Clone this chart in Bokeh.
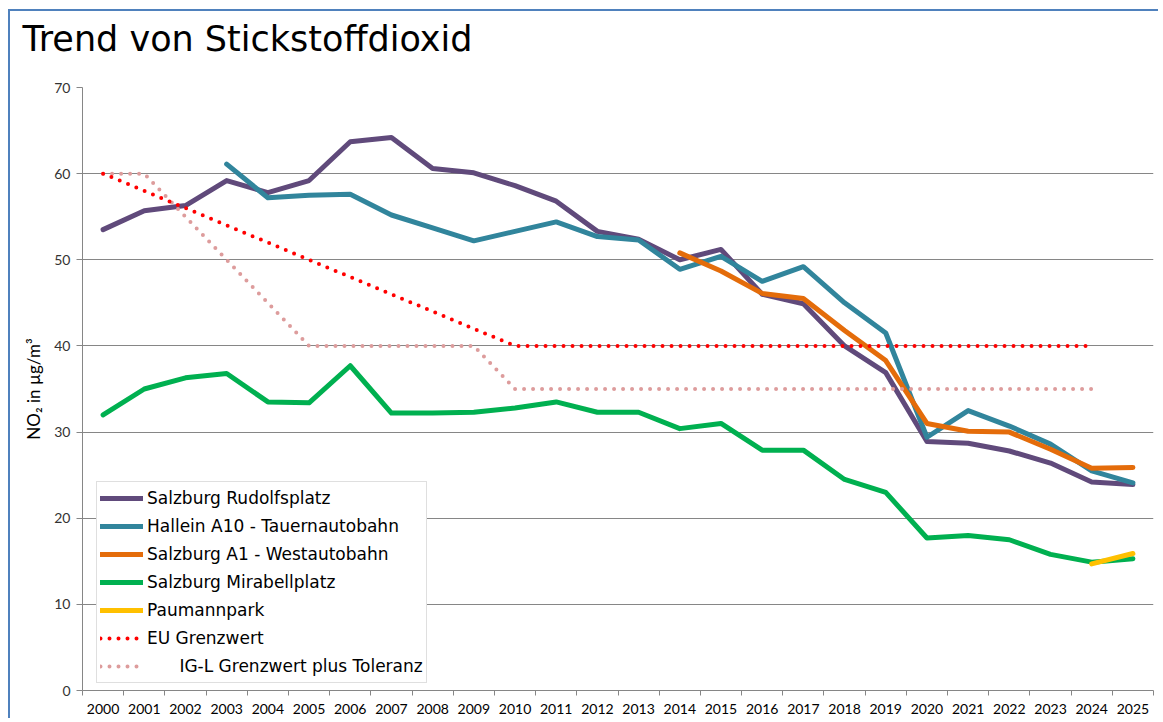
from bokeh.plotting import figure
from bokeh.models import FixedTicker, Range1d, Legend, LegendItem, Title
from bokeh.embed import file_html
from bokeh.resources import INLINE

# ---- data ----
years_all = list(range(2000, 2026))
rudolfsplatz = [53.5, 55.7, 56.3, 59.2, 57.8, 59.2, 63.7, 64.2, 60.6, 60.1, 58.6, 56.8, 53.3,
                52.4, 50.0, 51.2, 46.0, 44.9, 40.0, 36.9, 28.9, 28.7, 27.8, 26.4, 24.2, 23.9]
years_hallein = list(range(2003, 2026))
hallein = [61.1, 57.2, 57.5, 57.6, 55.2, 53.7, 52.2, 53.3, 54.4, 52.7, 52.3, 48.9, 50.4,
           47.5, 49.2, 45.0, 41.5, 29.4, 32.5, 30.7, 28.6, 25.5, 24.1]
years_a1 = list(range(2014, 2026))
westautobahn = [50.8, 48.7, 46.1, 45.5, 41.8, 38.3, 31.0, 30.1, 30.0, 28.0, 25.8, 25.9]
mirabell = [32.0, 35.0, 36.3, 36.8, 33.5, 33.4, 37.7, 32.2, 32.2, 32.3, 32.8, 33.5, 32.3,
            32.3, 30.4, 31.0, 27.9, 27.9, 24.5, 23.0, 17.7, 18.0, 17.5, 15.8, 14.9, 15.3]
years_paumann = [2024, 2025]
paumannpark = [14.7, 15.9]
years_limits = list(range(2000, 2025))
eu_grenzwert = [60, 58, 56, 54, 52, 50, 48, 46, 44, 42, 40, 40, 40, 40, 40, 40, 40, 40, 40,
                40, 40, 40, 40, 40, 40]
igl_grenzwert = [60, 60, 55, 50, 45, 40, 40, 40, 40, 40, 35, 35, 35, 35, 35, 35, 35, 35, 35,
                 35, 35, 35, 35, 35, 35]
y_ticks = [0, 10, 20, 30, 40, 50, 60, 70]

title_text = "Trend von Stickstoffdioxid"
labels = ["Salzburg Rudolfsplatz", "Hallein A10 - Tauernautobahn", "Salzburg A1 - Westautobahn",
          "Salzburg Mirabellplatz", "Paumannpark", "EU Grenzwert",
          "\u00a0\u00a0\u00a0\u00a0\u00a0\u00a0IG-L Grenzwert plus Toleranz"]

p = figure(width=1150, height=709, output_backend="svg", toolbar_location=None, title=None,
           x_range=Range1d(1999.5, 2025.5), y_range=Range1d(0, 70),
           min_border_left=72, min_border_top=76, min_border_bottom=30, min_border_right=7,
           styles={"border-left": "2px solid #4f81bd", "border-top": "2px solid #4f81bd",
                   "margin-left": "8px", "margin-top": "9px"})

# spacer between frame and title (nearest to the frame), then the title above it
spacer = Title(text=" ", text_font_size="1px", standoff=24, align="left")
p.add_layout(spacer, "above")
title = Title(text=title_text, text_font="DejaVu Sans", text_font_size="35px",
              text_font_style="normal", text_color="#000000", align="left",
              vertical_align="top", offset=-60, standoff=0)
p.add_layout(title, "above")

p.outline_line_color = None
p.xgrid.grid_line_color = None
p.ygrid.grid_line_color = "#868686"
p.ygrid.grid_line_width = 1

# axes
p.yaxis.ticker = FixedTicker(ticks=y_ticks)
p.yaxis.axis_label = "NO\u2082 in \u00b5g/m\u00b3"
p.yaxis.axis_label_text_font = "Lato"
p.yaxis.axis_label_text_font_size = "17px"
p.yaxis.axis_label_text_font_style = "normal"
p.yaxis.axis_label_text_color = "#000000"
p.yaxis.axis_label_standoff = 7
p.yaxis.major_label_text_font = "Lato"
p.yaxis.major_label_text_font_size = "14px"
p.yaxis.major_label_text_color = "#333333"
p.yaxis.axis_line_color = "#868686"
p.yaxis.major_tick_line_color = "#868686"
p.yaxis.major_tick_in = 0
p.yaxis.major_tick_out = 6
p.yaxis.minor_tick_line_color = None
p.yaxis.major_label_standoff = 6

p.xaxis.ticker = FixedTicker(ticks=years_all, minor_ticks=[y - 0.5 for y in years_all] + [2025.5])
p.xaxis.major_tick_line_color = None
p.xaxis.major_tick_in = 0
p.xaxis.major_tick_out = 5
p.xaxis.minor_tick_line_color = "#868686"
p.xaxis.minor_tick_in = 0
p.xaxis.minor_tick_out = 5
p.xaxis.axis_line_color = "#868686"
p.xaxis.major_label_text_font = "Lato"
p.xaxis.major_label_text_font_size = "14px"
p.xaxis.major_label_text_color = "#000000"
p.xaxis.major_label_standoff = 8

# series
r_rud = p.line(years_all, rudolfsplatz, line_color="#604a7b", line_width=5, line_join="round", line_cap="round")
r_hal = p.line(years_hallein, hallein, line_color="#31859c", line_width=5, line_join="round", line_cap="round")
r_a1 = p.line(years_a1, westautobahn, line_color="#e46c0a", line_width=5, line_join="round", line_cap="round")
r_mir = p.line(years_all, mirabell, line_color="#00b050", line_width=5, line_join="round", line_cap="round")
r_pau = p.line(years_paumann, paumannpark, line_color="#ffc000", line_width=5, line_join="round", line_cap="round")
r_igl = p.line(years_limits, igl_grenzwert, line_color="#dd9c9c", line_width=4, line_dash="0 9", line_cap="round")
r_eu = p.line(years_limits, eu_grenzwert, line_color="#ff0000", line_width=4, line_dash="0 9", line_cap="round")

legend = Legend(items=[
    LegendItem(label=labels[0], renderers=[r_rud]),
    LegendItem(label=labels[1], renderers=[r_hal]),
    LegendItem(label=labels[2], renderers=[r_a1]),
    LegendItem(label=labels[3], renderers=[r_mir]),
    LegendItem(label=labels[4], renderers=[r_pau]),
    LegendItem(label=labels[5], renderers=[r_eu]),
    LegendItem(label=labels[6], renderers=[r_igl]),
], location=(14, 7))
legend.label_text_font = "DejaVu Sans"
legend.label_text_font_size = "17px"
legend.label_text_color = "#000000"
legend.glyph_width = 43
legend.glyph_height = 26
legend.label_height = 26
legend.spacing = 2
legend.padding = 3
legend.label_standoff = 4
legend.border_line_color = "#bfbfbf"
legend.border_line_width = 1
legend.background_fill_color = "#ffffff"
legend.background_fill_alpha = 1.0
p.add_layout(legend)

open("out.html", "w").write(file_html(p, INLINE))
